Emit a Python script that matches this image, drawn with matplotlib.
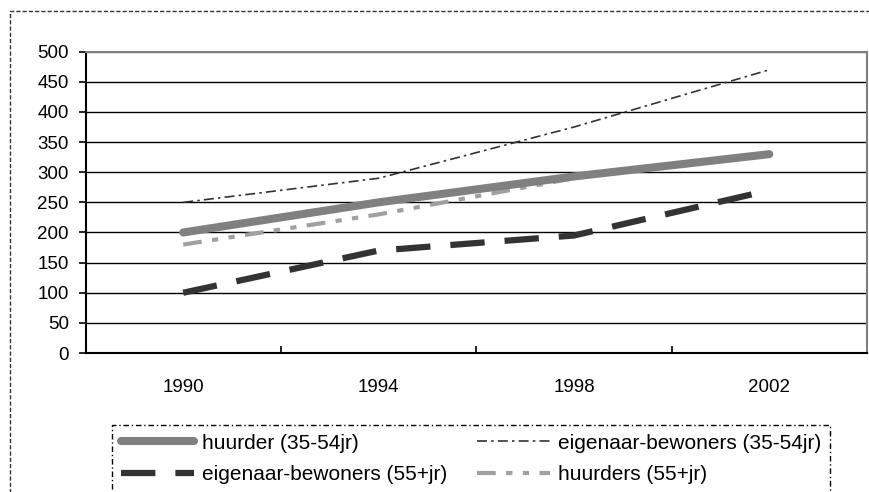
import matplotlib.pyplot as plt
from matplotlib.patches import Rectangle

plt.rcParams['font.family'] = ['Liberation Sans', 'DejaVu Sans']

years = ['1990', '1994', '1998', '2002']
huurder_3554 = [200, 250, 293, 330]
eigenaar_3554 = [250, 290, 375, 470]
eigenaar_55 = [100, 170, 195, 270]
huurders_55 = [180, 230, 290, 330]

fig = plt.figure(figsize=(8.69, 4.92), dpi=100)
ax = fig.add_axes([0.0984, 0.2825, 0.8993, 0.6124])

x = range(len(years))
ax.plot(x, huurder_3554, color='#808080', lw=5.8, solid_capstyle='round',
        label='huurder (35-54jr)', zorder=3)
ax.plot(x, eigenaar_3554, color='#333333', lw=1.2, ls=(0, (6, 2.5, 1.5, 2.5)),
        label='eigenaar-bewoners (35-54jr)', zorder=4)
ax.plot(x, eigenaar_55, color='#333333', lw=4.5, ls=(0, (5.5, 3.2)),
        label='eigenaar-bewoners (55+jr)', zorder=3)
ax.plot(x, huurders_55, color='#a0a0a0', lw=3, ls=(0, (4.5, 2.5, 1.5, 2.5, 1.5, 2.5)),
        label='huurders (55+jr)', zorder=2)

ax.set_xlim(-0.5, len(years) - 0.5)
ax.set_ylim(0, 500)
ax.set_yticks(range(0, 501, 50))
ax.set_xticks([i - 0.5 for i in range(len(years) + 1)])
ax.set_xticklabels([])
ax.set_xticks(list(x), minor=True)
ax.set_xticklabels(years, minor=True)

ax.tick_params(axis='x', which='major', direction='in', length=5, width=1.2, color='black')
ax.tick_params(axis='x', which='minor', length=0, pad=19, labelsize=13.5)
ax.tick_params(axis='y', direction='out', length=5, width=1.2, pad=7, labelsize=13.5)

ax.yaxis.grid(True, color='black', lw=1)
ax.set_axisbelow(True)
ax.get_ygridlines()[-1].set_color('#808080')

for side in ['left', 'bottom']:
    ax.spines[side].set_color('black')
    ax.spines[side].set_linewidth(1.5)
for side in ['top', 'right']:
    ax.spines[side].set_color('#808080')
    ax.spines[side].set_linewidth(1.5)

# order: row 1 = huurder, eigenaar 35-54; row 2 = eigenaar 55+, huurders 55+
h, l = ax.get_legend_handles_labels()
order = [0, 2, 1, 3]
leg = fig.legend([h[i] for i in order], [l[i] for i in order],
                 loc='upper left', bbox_to_anchor=(112 / 869, 1 - 425 / 492),
                 borderaxespad=0, ncol=2, fontsize=15, handlelength=3.5,
                 handletextpad=0.38, columnspacing=1.45, labelspacing=0.6,
                 borderpad=0.42, fancybox=False, framealpha=1)
frame = leg.get_frame()
frame.set_edgecolor('black')
frame.set_linewidth(1)
frame.set_linestyle((0, (4, 2, 1, 2)))

# outer chart border
fig.patches.append(Rectangle((10 / 869, -0.1), 1.0, 1.1 - 11 / 492,
                             transform=fig.transFigure, fill=False,
                             edgecolor='#333333', lw=1, ls=(0, (3, 1.5))))

fig.savefig('out.png', dpi=100)
